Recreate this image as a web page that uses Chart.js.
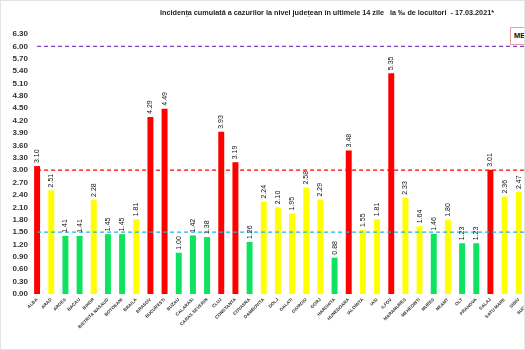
<!DOCTYPE html>
<html lang="ro">
<head>
    <meta charset="UTF-8">
    <title>Incidența cumulată</title>
    <script src="https://cdn.jsdelivr.net/npm/chart.js"></script>
    <style>
        body { margin: 0; width: 525px; height: 350px; overflow: hidden; background: #fff; position: relative; font-family: "Liberation Sans", Arial, sans-serif; }
        .wrap { position: absolute; left: 0; top: 0; width: 540px; height: 350px; }
        .title { position: absolute; top: 8px; left: 160px; font-size: 7.25px; font-weight: bold; color: #222; white-space: pre; }
        .legend { position: absolute; left: 510px; top: 27px; width: 40px; height: 16px; border: 1px solid #e8a0a0; background: #fff; font-size: 7.5px; font-weight: bold; line-height: 16px; padding-left: 3px; color: #111; }
        .frame { position: absolute; left: 0; top: 0; width: 523px; height: 348px; border: 1px solid #e4e4e4; pointer-events: none; }
    </style>
</head>
<body>
    <div class="wrap"><canvas id="chart"></canvas></div>
    <div class="title">Incidența cumulată a cazurilor la nivel județean în ultimele 14 zile   la ‰ de locuitori  - 17.03.2021*</div>
    <div class="legend">ME</div>
    <div class="frame"></div>

    <script>
        const judete = ['ALBA', 'ARAD', 'ARGES', 'BACAU', 'BIHOR', 'BISTRITA NASAUD', 'BOTOSANI', 'BRAILA',
            'BRASOV', 'BUCURESTI', 'BUZAU', 'CALARASI', 'CARAS SEVERIN', 'CLUJ', 'CONSTANTA', 'COVASNA',
            'DAMBOVITA', 'DOLJ', 'GALATI', 'GIURGIU', 'GORJ', 'HARGHITA', 'HUNEDOARA', 'IALOMITA', 'IASI',
            'ILFOV', 'MARAMURES', 'MEHEDINTI', 'MURES', 'NEAMT', 'OLT', 'PRAHOVA', 'SALAJ', 'SATU MARE',
            'SIBIU', 'SUCEAVA'];
        // SUCEAVA is cut off at the right edge of the picture, its value is not visible
        const incidenta = [3.10, 2.51, 1.41, 1.41, 2.28, 1.45, 1.45, 1.81,
            4.29, 4.49, 1.00, 1.42, 1.38, 3.93, 3.19, 1.26,
            2.24, 2.10, 1.95, 2.58, 2.29, 0.88, 3.48, 1.55, 1.81,
            5.35, 2.33, 1.64, 1.46, 1.80, 1.23, 1.23, 3.01, 2.36,
            2.47, null];
        const praguri = [6.00, 3.00, 1.50];
        const culoriPraguri = ['#7f3fbf', '#ff0000', '#1fb4e0'];

        function culoare(v) {
            if (v > 3) return '#ff0000';
            if (v >= 1.5) return '#ffff00';
            return '#0de35f';
        }

        const etichete = {
            id: 'etichete',
            afterDatasetsDraw(chart) {
                const ctx = chart.ctx;
                const meta = chart.getDatasetMeta(0);
                ctx.save();
                ctx.font = '7px "Liberation Sans", Arial, sans-serif';
                ctx.fillStyle = '#111';
                ctx.textAlign = 'left';
                ctx.textBaseline = 'middle';
                meta.data.forEach((bar, i) => {
                    if (incidenta[i] == null) return;
                    ctx.save();
                    ctx.translate(bar.x, bar.y - 3);
                    ctx.rotate(-Math.PI / 2);
                    ctx.fillText(incidenta[i].toFixed(2), 0, 0);
                    ctx.restore();
                });
                ctx.restore();
            }
        };

        const liniiPrag = praguri.map((p, k) => ({
            type: 'line',
            data: judete.map(() => p),
            borderColor: culoriPraguri[k],
            borderWidth: 1.3,
            borderDash: [4, 3],
            pointRadius: 0,
            fill: false,
            order: 1
        }));

        new Chart(document.getElementById('chart'), {
            type: 'bar',
            data: {
                labels: judete,
                datasets: [{
                    data: incidenta,
                    backgroundColor: incidenta.map(culoare),
                    barPercentage: 0.42,
                    categoryPercentage: 1,
                    order: 2
                }, ...liniiPrag]
            },
            options: {
                responsive: true,
                maintainAspectRatio: false,
                animation: false,
                devicePixelRatio: 1,
                layout: { padding: { top: 34, left: 0, right: 0, bottom: 0 } },
                plugins: {
                    legend: { display: false },
                    tooltip: { enabled: false }
                },
                scales: {
                    x: {
                        grid: { display: false, drawTicks: false },
                        border: { display: false },
                        ticks: {
                            autoSkip: false,
                            minRotation: 45,
                            maxRotation: 45,
                            padding: 3,
                            color: '#333',
                            font: { size: 4.5, weight: 'bold', family: '"Liberation Sans", Arial, sans-serif' }
                        },
                        afterFit(axis) { axis.height = 56; }
                    },
                    y: {
                        min: 0,
                        max: 6.3,
                        grid: { display: false, drawTicks: false },
                        border: { display: false },
                        ticks: {
                            autoSkip: false,
                            stepSize: 0.3,
                            padding: 2,
                            color: '#333',
                            font: { size: 8, weight: 'bold', family: '"Liberation Sans", Arial, sans-serif' },
                            callback: v => Number(v).toFixed(2)
                        },
                        afterFit(axis) { axis.width = 30; }
                    }
                }
            },
            plugins: [etichete]
        });
    </script>
</body>
</html>
